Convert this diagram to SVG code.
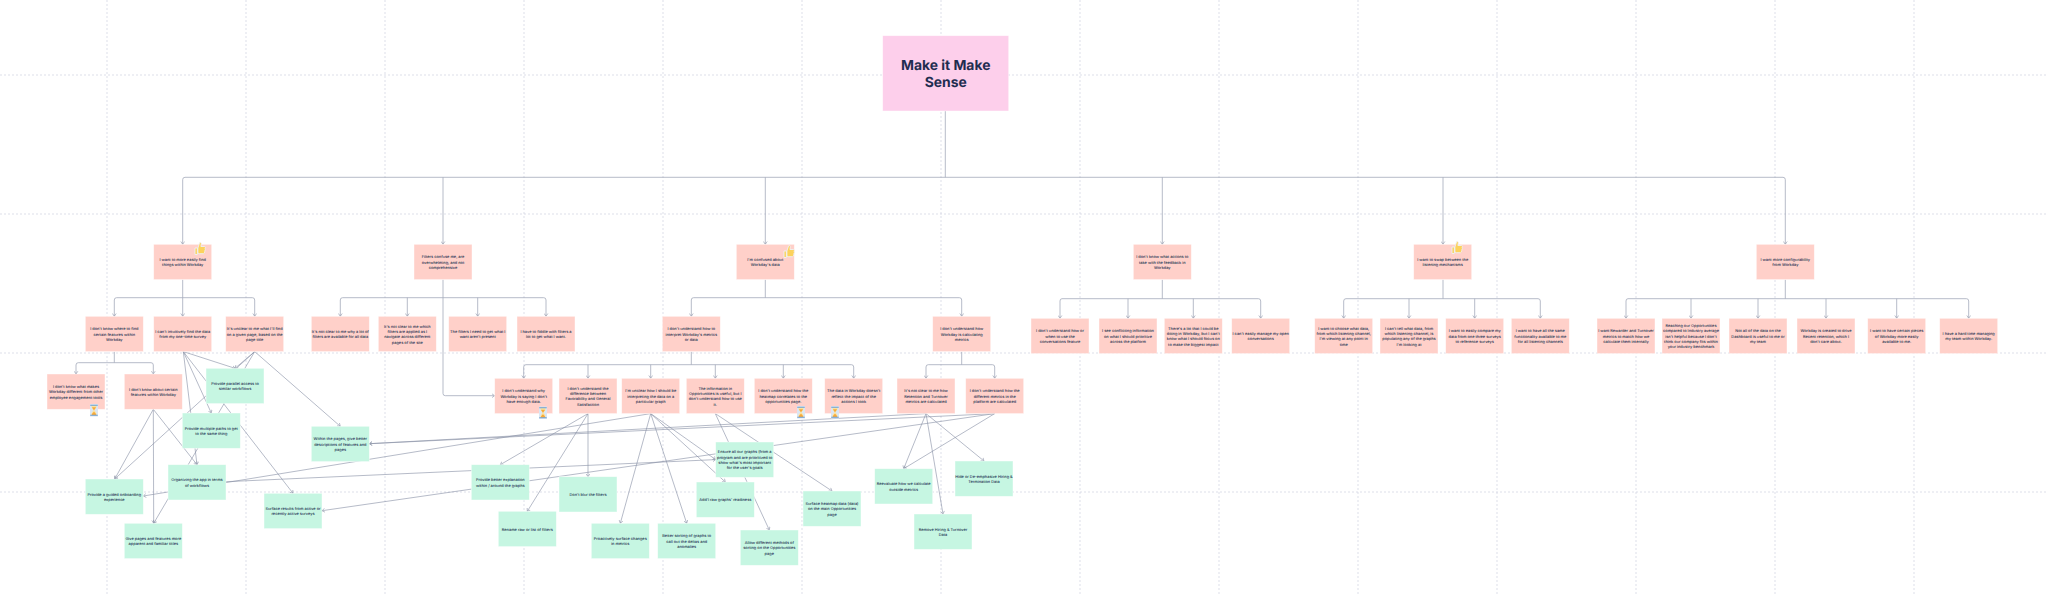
<svg xmlns="http://www.w3.org/2000/svg" xmlns:xlink="http://www.w3.org/1999/xlink" width="2048" height="596" viewBox="0 0 2048 596">
<style>
.bg{fill:#fff}
.grid line{stroke:#cfd1e0;stroke-width:.7;stroke-dasharray:2 2;fill:none}
.c path{fill:none;stroke:#a3a9ba;stroke-width:.8;marker-end:url(#a)}
.c .t{marker-end:none}
.c .d{stroke:#858da2;stroke-width:.6}
.n rect{stroke:#fff;stroke-opacity:.6;stroke-width:.7}
.p rect{fill:#ffd0c9}
.g rect{fill:#c6f6e2}
text{font-family:Inter,"Noto Sans","Liberation Sans",sans-serif;font-size:3.9px;font-weight:500;fill:#22304f;text-anchor:middle;text-rendering:geometricPrecision}
.r rect{fill:#fdcfeb}
.r text{font-size:13.9px;font-weight:700;fill:#1f2d50}
</style>
<defs>
<marker id="a" markerUnits="userSpaceOnUse" markerWidth="5" markerHeight="5" refX="3.2" refY="2.5" orient="auto"><path d="M.4 .6L3.2 2.5L.4 4.4" fill="none" stroke="#8f96aa" stroke-width=".6"/></marker>
<symbol id="thumb" viewBox="0 0 12 14" overflow="visible"><path d="M1 6.5H3.4V13H1Z M3.9 6.5L5.6 1.2C6.6 .6 7.5 1.3 7.3 2.6L6.9 5H10.5C11.5 5 11.6 6.2 11 6.7C11.6 7.4 11.5 8.2 10.8 8.6C11.3 9.3 11 10.1 10.4 10.4C10.6 11.3 10.2 12.2 9.2 12.2H5.2L3.9 11.6Z" fill="#fcd25c" stroke="#eef0f4" stroke-width=".9"/></symbol>
<symbol id="glass" viewBox="0 0 10 14" overflow="visible"><rect x=".5" y="0" width="9" height="14" fill="#dbe6f3"/><path d="M2 1.5H8C8 5 5.8 6 5.6 7C5.8 8 8 9 8 12.5H2C2 9 4.2 8 4.4 7C4.2 6 2 5 2 1.5Z" fill="#fbe3a0"/><path d="M2.8 3.6H7.2C6.6 5.4 5.4 5.9 5 7C4.6 5.9 3.4 5.4 2.8 3.6Z M2.4 12.3C2.8 10.2 4.4 9.6 5 8.8C5.6 9.6 7.2 10.2 7.6 12.3Z" fill="#f7a93a"/><path d="M.8 .8H9.2V1.9H.8Z M.8 12.1H9.2V13.2H.8Z" fill="#6f9fd0"/></symbol>
</defs>
<rect class="bg" width="2048" height="596"/>
<g id="grid" class="grid">
<line x1="107" y1="0" x2="107" y2="596"/><line x1="246" y1="0" x2="246" y2="596"/><line x1="385" y1="0" x2="385" y2="596"/><line x1="524" y1="0" x2="524" y2="596"/><line x1="663" y1="0" x2="663" y2="596"/><line x1="802" y1="0" x2="802" y2="596"/><line x1="941" y1="0" x2="941" y2="596"/><line x1="1080" y1="0" x2="1080" y2="596"/><line x1="1219" y1="0" x2="1219" y2="596"/><line x1="1358" y1="0" x2="1358" y2="596"/><line x1="1497" y1="0" x2="1497" y2="596"/><line x1="1636" y1="0" x2="1636" y2="596"/><line x1="1775" y1="0" x2="1775" y2="596"/><line x1="1914" y1="0" x2="1914" y2="596"/>
<line x1="0" y1="75" x2="2048" y2="75"/><line x1="0" y1="214" x2="2048" y2="214"/><line x1="0" y1="353" x2="2048" y2="353"/><line x1="0" y1="492" x2="2048" y2="492"/>
</g>
<g id="connectors" class="c">
<path class="t" d="M945.3 111V177.3M185 177.3H1783"/>
<path d="M185 177.3Q182.7 177.3 182.7 179.6V244.3"/>
<path d="M443 177.3V244.3"/>
<path d="M765.3 177.3V244.3"/>
<path d="M1162.3 177.3V244.3"/>
<path d="M1443 177.3V244.3"/>
<path d="M1783 177.3Q1785.3 177.3 1785.3 179.6V244.3"/>
<path class="t" d="M182.7 279.6V297.7M116.6 297.7H252.4"/>
<path d="M116.6 297.7Q114.3 297.7 114.3 300V316.3"/>
<path d="M182.7 297.7V316.3"/>
<path d="M252.4 297.7Q254.7 297.7 254.7 300V316.3"/>
<path class="t" d="M443 279.6V297.7M342.6 297.7H543.7"/>
<path d="M342.6 297.7Q340.3 297.7 340.3 300V316.3"/>
<path d="M407.3 297.7V316.3"/>
<path d="M477.7 297.7V316.3"/>
<path d="M543.7 297.7Q546 297.7 546 300V316.3"/>
<path d="M443 297.7V393.4Q443 395.7 445.3 395.7H494.7"/>
<path class="t" d="M765.3 279.6V297.7M693.6 297.7H959.4"/>
<path d="M693.6 297.7Q691.3 297.7 691.3 300V316.3"/>
<path d="M959.4 297.7Q961.7 297.7 961.7 300V316.3"/>
<path class="t" d="M1162.3 279.6V298.7M1062 298.7H1258.4"/>
<path d="M1062 298.7Q1060 298.7 1060 301V318.3"/>
<path d="M1128 298.7V318.3"/>
<path d="M1193.3 298.7V318.3"/>
<path d="M1258.4 298.7Q1260.7 298.7 1260.7 301V318.3"/>
<path class="t" d="M1443 279.6V298.7M1346 298.7H1538"/>
<path d="M1346 298.7Q1343.7 298.7 1343.7 301V318.3"/>
<path d="M1409 298.7V318.3"/>
<path d="M1474.7 298.7V318.3"/>
<path d="M1538 298.7Q1540.3 298.7 1540.3 301V318.3"/>
<path class="t" d="M1785.3 279.6V298.7M1628 298.7H1966.4"/>
<path d="M1628 298.7Q1626 298.7 1626 301V318.3"/>
<path d="M1691 298.7V318.3"/>
<path d="M1758 298.7V318.3"/>
<path d="M1826 298.7V318.3"/>
<path d="M1896.7 298.7V318.3"/>
<path d="M1966.4 298.7Q1968.7 298.7 1968.7 301V318.3"/>
<path class="t" d="M114.3 351.6V362.7M78.3 362.7H151"/>
<path d="M78.3 362.7Q76 362.7 76 365V374"/>
<path d="M151 362.7Q153.3 362.7 153.3 365V374"/>
<path class="t" d="M691.3 351.6V364.7M526 364.7H851.4"/>
<path d="M526 364.7Q523.7 364.7 523.7 367V378.3"/>
<path d="M588 364.7V378.3"/>
<path d="M650.7 364.7V378.3"/>
<path d="M715.3 364.7V378.3"/>
<path d="M783.3 364.7V378.3"/>
<path d="M851.4 364.7Q853.7 364.7 853.7 367V378.3"/>
<path class="t" d="M961.7 351.6V364.7M928.3 364.7H992.4"/>
<path d="M928.3 364.7Q926 364.7 926 367V378.3"/>
<path d="M992.4 364.7Q994.7 364.7 994.7 367V378.3"/>
<path class="d" d="M183.3 351.6L235 368.3"/>
<path class="d" d="M183.3 351.6L211.3 413"/>
<path class="d" d="M183.3 351.6L197 464.7"/>
<path class="d" d="M183.3 351.6L293 493.3"/>
<path class="d" d="M254.7 351.6L235 368.3"/>
<path class="d" d="M254.7 351.6L153.7 523.3"/>
<path class="d" d="M254.7 351.6L114.7 479"/>
<path class="d" d="M254.7 351.6L340.3 426.3"/>
<path class="d" d="M153.3 409.3L114.7 479"/>
<path class="d" d="M153.3 409.3L153.7 523.3"/>
<path class="d" d="M153.3 409.3L197 464.7"/>
<path class="d" d="M650.7 413.6L143.3 496"/>
<path class="d" d="M226 481.7L715.7 459.6"/>
<path class="d" d="M994.7 413.6L322 510.7"/>
<path class="d" d="M926 413.6L369.3 443.7"/>
<path class="d" d="M994.7 413.6L369.3 443.7"/>
<path class="d" d="M588 413.6L500.3 464.7"/>
<path class="d" d="M588 413.6L527.3 511.3"/>
<path class="d" d="M588 413.6V476.7"/>
<path class="d" d="M650.7 413.6L620.3 523.3"/>
<path class="d" d="M650.7 413.6L686.7 523.3"/>
<path class="d" d="M650.7 413.6L725.3 482"/>
<path class="d" d="M650.7 413.6L715.7 459.6"/>
<path class="d" d="M715.3 413.6L769.3 530"/>
<path class="d" d="M715.3 413.6L832 491"/>
<path class="d" d="M926 413.6L903.7 468.7"/>
<path class="d" d="M926 413.6L943 514"/>
<path class="d" d="M926 413.6L984 461"/>
<path class="d" d="M994.7 413.6L903.7 468.7"/>
</g>
<g id="root" class="n r"><rect x="882.7" y="35.7" width="126" height="75.3"/><text><tspan x="945.7" y="70">Make it Make</tspan><tspan x="945.7" dy="17">Sense</tspan></text></g>
<g id="A" class="n p"><rect x="153.7" y="244.3" width="58" height="35.3"/><text><tspan x="182.7" y="260.9">I want to more easily find</tspan><tspan x="182.7" dy="5.33">things within Workday</tspan></text></g>
<g id="B" class="n p"><rect x="414" y="244.3" width="58" height="35.3"/><text><tspan x="443" y="258.3">Filters confuse me, are</tspan><tspan x="443" dy="5.33">overwhelming, and not</tspan><tspan x="443" dy="5.33">comprehensive</tspan></text></g>
<g id="C" class="n p"><rect x="736.3" y="244.3" width="58" height="35.3"/><text><tspan x="765.3" y="260.9">I'm confused about</tspan><tspan x="765.3" dy="5.33">Workday's data</tspan></text></g>
<g id="D" class="n p"><rect x="1133.3" y="244.3" width="58" height="35.3"/><text><tspan x="1162.3" y="258.3">I don't know what actions to</tspan><tspan x="1162.3" dy="5.33">take with the feedback in</tspan><tspan x="1162.3" dy="5.33">Workday</tspan></text></g>
<g id="E" class="n p"><rect x="1413.7" y="244.3" width="58" height="35.3"/><text><tspan x="1442.7" y="260.9">I want to swap between the</tspan><tspan x="1442.7" dy="5.33">listening mechanisms</tspan></text></g>
<g id="F" class="n p"><rect x="1756.3" y="244.3" width="58" height="35.3"/><text><tspan x="1785.3" y="260.9">I want more configurability</tspan><tspan x="1785.3" dy="5.33">from Workday</tspan></text></g>
<g id="A1" class="n p"><rect x="85.3" y="316.3" width="58" height="35.3"/><text><tspan x="114.3" y="330.3">I don't know where to find</tspan><tspan x="114.3" dy="5.33">certain features within</tspan><tspan x="114.3" dy="5.33">Workday</tspan></text></g>
<g id="A2" class="n p"><rect x="153.7" y="316.3" width="58" height="35.3"/><text><tspan x="182.7" y="332.9">I can't intuitively find the data</tspan><tspan x="182.7" dy="5.33">from my one-time survey</tspan></text></g>
<g id="A3" class="n p"><rect x="225.7" y="316.3" width="58" height="35.3"/><text><tspan x="254.7" y="330.3">It's unclear to me what I'll find</tspan><tspan x="254.7" dy="5.33">on a given page, based on the</tspan><tspan x="254.7" dy="5.33">page title</tspan></text></g>
<g id="B1" class="n p"><rect x="311.3" y="316.3" width="58" height="35.3"/><text><tspan x="340.3" y="332.9">It's not clear to me why a lot of</tspan><tspan x="340.3" dy="5.33">filters are available for all data</tspan></text></g>
<g id="B2" class="n p"><rect x="378.3" y="316.3" width="58" height="35.3"/><text><tspan x="407.3" y="327.6">It's not clear to me which</tspan><tspan x="407.3" dy="5.33">filters are applied as I</tspan><tspan x="407.3" dy="5.33">navigate across different</tspan><tspan x="407.3" dy="5.33">pages of the site</tspan></text></g>
<g id="B3" class="n p"><rect x="448.7" y="316.3" width="58" height="35.3"/><text><tspan x="477.7" y="332.9">The filters I need to get what I</tspan><tspan x="477.7" dy="5.33">want aren't present</tspan></text></g>
<g id="B4" class="n p"><rect x="517" y="316.3" width="58" height="35.3"/><text><tspan x="546" y="332.9">I have to fiddle with filters a</tspan><tspan x="546" dy="5.33">lot to get what I want.</tspan></text></g>
<g id="C1" class="n p"><rect x="662.3" y="316.3" width="58" height="35.3"/><text><tspan x="691.3" y="330.3">I don't understand how to</tspan><tspan x="691.3" dy="5.33">interpret Workday's metrics</tspan><tspan x="691.3" dy="5.33">or data</tspan></text></g>
<g id="C2" class="n p"><rect x="932.7" y="316.3" width="58" height="35.3"/><text><tspan x="961.7" y="330.3">I don't understand how</tspan><tspan x="961.7" dy="5.33">Workday is calculating</tspan><tspan x="961.7" dy="5.33">metrics</tspan></text></g>
<g id="D1" class="n p"><rect x="1031" y="318.3" width="58" height="35.3"/><text><tspan x="1060" y="332.3">I don't understand how or</tspan><tspan x="1060" dy="5.33">when to use the</tspan><tspan x="1060" dy="5.33">conversations feature</tspan></text></g>
<g id="D2" class="n p"><rect x="1099" y="318.3" width="58" height="35.3"/><text><tspan x="1128" y="332.3">I see conflicting information</tspan><tspan x="1128" dy="5.33">on what I should prioritize</tspan><tspan x="1128" dy="5.33">across the platform</tspan></text></g>
<g id="D3" class="n p"><rect x="1164.3" y="318.3" width="58" height="35.3"/><text><tspan x="1193.3" y="329.6">There's a lot that I could be</tspan><tspan x="1193.3" dy="5.33">doing in Workday, but I can't</tspan><tspan x="1193.3" dy="5.33">know what I should focus on</tspan><tspan x="1193.3" dy="5.33">to make the biggest impact</tspan></text></g>
<g id="D4" class="n p"><rect x="1231.7" y="318.3" width="58" height="35.3"/><text><tspan x="1260.7" y="334.9">I can't easily manage my open</tspan><tspan x="1260.7" dy="5.33">conversations</tspan></text></g>
<g id="E1" class="n p"><rect x="1314.7" y="318.3" width="58" height="35.3"/><text><tspan x="1343.7" y="329.6">I want to choose what data,</tspan><tspan x="1343.7" dy="5.33">from which listening channel,</tspan><tspan x="1343.7" dy="5.33">I'm viewing at any point in</tspan><tspan x="1343.7" dy="5.33">time</tspan></text></g>
<g id="E2" class="n p"><rect x="1380" y="318.3" width="58" height="35.3"/><text><tspan x="1409" y="329.6">I can't tell what data, from</tspan><tspan x="1409" dy="5.33">which listening channel, is</tspan><tspan x="1409" dy="5.33">populating any of the graphs</tspan><tspan x="1409" dy="5.33">I'm looking at</tspan></text></g>
<g id="E3" class="n p"><rect x="1445.7" y="318.3" width="58" height="35.3"/><text><tspan x="1474.7" y="332.3">I want to easily compare my</tspan><tspan x="1474.7" dy="5.33">data from one three surveys</tspan><tspan x="1474.7" dy="5.33">to reference surveys</tspan></text></g>
<g id="E4" class="n p"><rect x="1511.3" y="318.3" width="58" height="35.3"/><text><tspan x="1540.3" y="332.3">I want to have all the same</tspan><tspan x="1540.3" dy="5.33">functionality available to me</tspan><tspan x="1540.3" dy="5.33">for all listening channels</tspan></text></g>
<g id="F1" class="n p"><rect x="1597" y="318.3" width="58" height="35.3"/><text><tspan x="1626" y="332.3">I want Rewarder and Turnover</tspan><tspan x="1626" dy="5.33">metrics to match how we</tspan><tspan x="1626" dy="5.33">calculate them internally</tspan></text></g>
<g id="F2" class="n p"><rect x="1662" y="318.3" width="58" height="35.3"/><text><tspan x="1691" y="326.9">Reaching our Opportunities</tspan><tspan x="1691" dy="5.33">compared to Industry average</tspan><tspan x="1691" dy="5.33">isn't helpful because I don't</tspan><tspan x="1691" dy="5.33">think our company fits within</tspan><tspan x="1691" dy="5.33">your industry benchmark</tspan></text></g>
<g id="F3" class="n p"><rect x="1729" y="318.3" width="58" height="35.3"/><text><tspan x="1758" y="332.3">Not all of the data on the</tspan><tspan x="1758" dy="5.33">Dashboard is useful to me or</tspan><tspan x="1758" dy="5.33">my team</tspan></text></g>
<g id="F4" class="n p"><rect x="1797" y="318.3" width="58" height="35.3"/><text><tspan x="1826" y="332.3">Workday is created to drive</tspan><tspan x="1826" dy="5.33">Recent retention, which I</tspan><tspan x="1826" dy="5.33">don't care about.</tspan></text></g>
<g id="F5" class="n p"><rect x="1867.7" y="318.3" width="58" height="35.3"/><text><tspan x="1896.7" y="332.3">I want to have certain pieces</tspan><tspan x="1896.7" dy="5.33">of Workday more easily</tspan><tspan x="1896.7" dy="5.33">available to me.</tspan></text></g>
<g id="F6" class="n p"><rect x="1939.7" y="318.3" width="58" height="35.3"/><text><tspan x="1968.7" y="334.9">I have a hard time managing</tspan><tspan x="1968.7" dy="5.33">my team within Workday.</tspan></text></g>
<g id="A11" class="n p"><rect x="47" y="374" width="58" height="35.3"/><text><tspan x="76" y="387.9">I don't know what makes</tspan><tspan x="76" dy="5.33">Workday different from other</tspan><tspan x="76" dy="5.33">employee engagement tools</tspan></text></g>
<g id="A12" class="n p"><rect x="124.3" y="374" width="58" height="35.3"/><text><tspan x="153.3" y="390.5">I don't know about certain</tspan><tspan x="153.3" dy="5.33">features within Workday</tspan></text></g>
<g id="C11" class="n p"><rect x="494.7" y="378.3" width="58" height="35.3"/><text><tspan x="523.7" y="392.3">I don't understand why</tspan><tspan x="523.7" dy="5.33">Workday is saying I don't</tspan><tspan x="523.7" dy="5.33">have enough data.</tspan></text></g>
<g id="C12" class="n p"><rect x="559" y="378.3" width="58" height="35.3"/><text><tspan x="588" y="389.6">I don't understand the</tspan><tspan x="588" dy="5.33">difference between</tspan><tspan x="588" dy="5.33">Favorability and General</tspan><tspan x="588" dy="5.33">Satisfaction</tspan></text></g>
<g id="C13" class="n p"><rect x="621.7" y="378.3" width="58" height="35.3"/><text><tspan x="650.7" y="392.3">I'm unclear how I should be</tspan><tspan x="650.7" dy="5.33">interpreting the data on a</tspan><tspan x="650.7" dy="5.33">particular graph</tspan></text></g>
<g id="C14" class="n p"><rect x="686.3" y="378.3" width="58" height="35.3"/><text><tspan x="715.3" y="389.6">The information in</tspan><tspan x="715.3" dy="5.33">Opportunities is useful, but I</tspan><tspan x="715.3" dy="5.33">don't understand how to use</tspan><tspan x="715.3" dy="5.33">it.</tspan></text></g>
<g id="C15" class="n p"><rect x="754.3" y="378.3" width="58" height="35.3"/><text><tspan x="783.3" y="392.3">I don't understand how the</tspan><tspan x="783.3" dy="5.33">heatmap correlates to the</tspan><tspan x="783.3" dy="5.33">opportunities page.</tspan></text></g>
<g id="C16" class="n p"><rect x="824.7" y="378.3" width="58" height="35.3"/><text><tspan x="853.7" y="392.3">The data in Workday doesn't</tspan><tspan x="853.7" dy="5.33">reflect the impact of the</tspan><tspan x="853.7" dy="5.33">actions I took</tspan></text></g>
<g id="C21" class="n p"><rect x="897" y="378.3" width="58" height="35.3"/><text><tspan x="926" y="392.3">It's not clear to me how</tspan><tspan x="926" dy="5.33">Retention and Turnover</tspan><tspan x="926" dy="5.33">metrics are calculated</tspan></text></g>
<g id="C22" class="n p"><rect x="965.7" y="378.3" width="58" height="35.3"/><text><tspan x="994.7" y="392.3">I don't understand how the</tspan><tspan x="994.7" dy="5.33">different metrics in the</tspan><tspan x="994.7" dy="5.33">platform are calculated</tspan></text></g>
<g id="G1" class="n g"><rect x="206" y="368.3" width="58" height="35.3"/><text><tspan x="235" y="384.9">Provide parallel access to</tspan><tspan x="235" dy="5.33">similar workflows</tspan></text></g>
<g id="G2" class="n g"><rect x="182.3" y="413" width="58" height="35.3"/><text><tspan x="211.3" y="429.6">Provide multiple paths to get</tspan><tspan x="211.3" dy="5.33">to the same thing</tspan></text></g>
<g id="G3" class="n g"><rect x="168" y="464.7" width="58" height="35.3"/><text><tspan x="197" y="481.2">Organizing the app in terms</tspan><tspan x="197" dy="5.33">of workflows</tspan></text></g>
<g id="G4" class="n g"><rect x="85.3" y="479" width="58" height="35.3"/><text><tspan x="114.3" y="495.6">Provide a guided onboarding</tspan><tspan x="114.3" dy="5.33">experience</tspan></text></g>
<g id="G5" class="n g"><rect x="124.3" y="523.3" width="58" height="35.3"/><text><tspan x="153.3" y="539.9">Give pages and features more</tspan><tspan x="153.3" dy="5.33">apparent and familiar titles</tspan></text></g>
<g id="G6" class="n g"><rect x="264" y="493.3" width="58" height="35.3"/><text><tspan x="293" y="509.9">Surface results from active or</tspan><tspan x="293" dy="5.33">recently active surveys</tspan></text></g>
<g id="G7" class="n g"><rect x="311.3" y="426.3" width="58" height="35.3"/><text><tspan x="340.3" y="440.3">Within the pages, give better</tspan><tspan x="340.3" dy="5.33">descriptions of features and</tspan><tspan x="340.3" dy="5.33">pages</tspan></text></g>
<g id="G8" class="n g"><rect x="471.3" y="464.7" width="58" height="35.3"/><text><tspan x="500.3" y="481.2">Provide better explanation</tspan><tspan x="500.3" dy="5.33">within / around the graphs</tspan></text></g>
<g id="G9" class="n g"><rect x="498.3" y="511.3" width="58" height="35.3"/><text><tspan x="527.3" y="530.6">Rename raw or list of filters</tspan></text></g>
<g id="G10" class="n g"><rect x="559" y="476.7" width="58" height="35.3"/><text><tspan x="588" y="495.9">Don't blur the filters</tspan></text></g>
<g id="G11" class="n g"><rect x="591.3" y="523.3" width="58" height="35.3"/><text><tspan x="620.3" y="539.9">Proactively surface changes</tspan><tspan x="620.3" dy="5.33">in metrics</tspan></text></g>
<g id="G12" class="n g"><rect x="657.7" y="523.3" width="58" height="35.3"/><text><tspan x="686.7" y="537.3">Better sorting of graphs to</tspan><tspan x="686.7" dy="5.33">call out the deltas and</tspan><tspan x="686.7" dy="5.33">anomalies</tspan></text></g>
<g id="G13" class="n g"><rect x="696.3" y="482" width="58" height="35.3"/><text><tspan x="725.3" y="501.3">Add'l raw graphs' readiness</tspan></text></g>
<g id="G14" class="n g"><rect x="715.7" y="442" width="58" height="35.3"/><text><tspan x="744.7" y="453.3">Ensure all our graphs (from a</tspan><tspan x="744.7" dy="5.33">program and are prioritized to</tspan><tspan x="744.7" dy="5.33">show what's most important</tspan><tspan x="744.7" dy="5.33">for the user's goals</tspan></text></g>
<g id="G15" class="n g"><rect x="740.3" y="530" width="58" height="35.3"/><text><tspan x="769.3" y="544">Allow different methods of</tspan><tspan x="769.3" dy="5.33">sorting on the Opportunities</tspan><tspan x="769.3" dy="5.33">page</tspan></text></g>
<g id="G16" class="n g"><rect x="803" y="491" width="58" height="35.3"/><text><tspan x="832" y="505">Surface heatmap data (data)</tspan><tspan x="832" dy="5.33">on the main Opportunities</tspan><tspan x="832" dy="5.33">page</tspan></text></g>
<g id="G17" class="n g"><rect x="874.7" y="468.7" width="58" height="35.3"/><text><tspan x="903.7" y="485.2">Reevaluate how we calculate</tspan><tspan x="903.7" dy="5.33">outside metrics</tspan></text></g>
<g id="G18" class="n g"><rect x="955" y="461" width="58" height="35.3"/><text><tspan x="984" y="477.6">Hide or De-emphasize Hiring &amp;</tspan><tspan x="984" dy="5.33">Termination Data</tspan></text></g>
<g id="G19" class="n g"><rect x="914" y="514" width="58" height="35.3"/><text><tspan x="943" y="530.6">Remove Hiring &amp; Turnover</tspan><tspan x="943" dy="5.33">Data</tspan></text></g>
<g id="icons">
<use xlink:href="#thumb" href="#thumb" x="194" y="241.5" width="12" height="14"/>
<use xlink:href="#thumb" href="#thumb" x="783" y="244.5" width="12" height="14"/>
<use xlink:href="#thumb" href="#thumb" x="1451" y="240.5" width="12" height="14"/>
<use xlink:href="#glass" href="#glass" x="89.5" y="404" width="9" height="12.5"/>
<use xlink:href="#glass" href="#glass" x="538.5" y="406.5" width="9" height="12.5"/>
<use xlink:href="#glass" href="#glass" x="796.5" y="406" width="9" height="12.5"/>
<use xlink:href="#glass" href="#glass" x="830.5" y="406" width="9" height="12.5"/>
</g>
</svg>
